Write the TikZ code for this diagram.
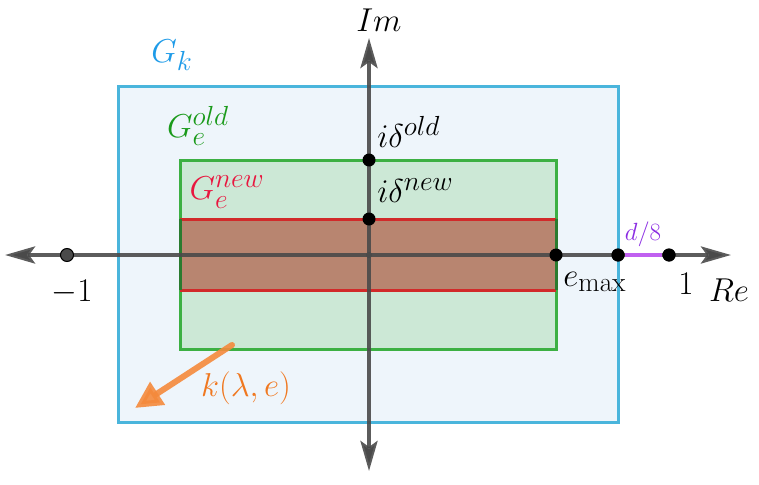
\documentclass[tikz,border=0pt]{standalone}
\usetikzlibrary{arrows.meta}
\definecolor{kblue}{HTML}{4AB5DC}
\definecolor{kbluefill}{HTML}{EEF5FB}
\definecolor{kgreen}{HTML}{3CB043}
\definecolor{kgreenfill}{HTML}{CCE8D6}
\definecolor{kred}{HTML}{D12A2A}
\definecolor{kbrown}{HTML}{B88570}
\definecolor{kaxis}{HTML}{4A4A4A}
\definecolor{klabelblue}{HTML}{1E9BE8}
\definecolor{klabelgreen}{HTML}{1A9A1A}
\definecolor{klabelred}{HTML}{E8173F}
\definecolor{korange}{HTML}{F58A3C}
\definecolor{korangetext}{HTML}{F07820}
\definecolor{kpurple}{HTML}{C060F0}
\definecolor{kpurpletext}{HTML}{8A2BE2}
\tikzset{
  axisline/.style={draw=kaxis, line width=4pt, -{Stealth[length=30pt,width=17pt,inset=6pt]}},
  dotblack/.style={circle, fill=black, inner sep=0pt, minimum size=13pt},
  dotgrey/.style={circle, fill=kaxis, draw=black, line width=1pt, inner sep=0pt, minimum size=13pt},
  lbl/.style={inner sep=0pt, font=\Huge, scale=1.33},
}
\begin{document}
\begin{tikzpicture}[x=1pt,y=-1pt]
\useasboundingbox (0,0) rectangle (759,484);
% regions
\draw[kblue, fill=kbluefill, line width=3pt] (118,87) rectangle (618,422);
\draw[kgreen, fill=kgreenfill, line width=3pt] (180,160) rectangle (556,349);
\fill[kbrown] (180,219) rectangle (556,290);
\draw[kred, line width=3pt] (180,219) -- (556,219);
\draw[kred, line width=3pt] (180,290) -- (556,290);
\draw[kgreen!70!black, line width=3pt] (180,219) -- (180,290);
\draw[kgreen!70!black, line width=3pt] (556,219) -- (556,290);
% axes
\coordinate (xl) at (5,255);
\coordinate (xr) at (731,255);
\coordinate (yt) at (369,38);
\coordinate (yb) at (369,471);
\coordinate (o) at (369,255);
\draw[axisline, draw opacity=0.9] (o) -- (xl);
\draw[axisline, draw opacity=0.9] (o) -- (xr);
\draw[axisline, draw opacity=0.9] (o) -- (yt);
\draw[axisline, draw opacity=0.9] (o) -- (yb);
% points
\node[dotgrey] (m1) at (67,255) {};
\node[dotblack] (emax) at (556,255) {};
\node[dotblack] (p1) at (618,255) {};
\node[dotblack] (p2) at (669,255) {};
\draw[kpurple, line width=4pt] (p1) -- (p2);
\node[dotblack] (p1b) at (618,255) {};
\node[dotblack] (p2b) at (669,255) {};
\node[circle, fill=kaxis, inner sep=0pt, minimum size=6pt] (odot) at (o) {};
\node[dotblack] (dold) at (369,160) {};
\node[dotblack] (dnew) at (369,219) {};
% labels
\node[lbl] (lIm) at (379,20) {$Im$};
\node[lbl] (lRe) at (729,290) {$Re$};
\node[lbl] (l1) at (686,284) {$1$};
\node[lbl] (lm1) at (72,292) {$-1$};
\node[lbl, anchor=west] (lemax) at (563,282) {$e_{\max}$};
\node[inner sep=0pt, font=\huge, scale=1.2, text=kpurpletext] (ld8) at (643,234) {$d/8$};
\node[lbl, anchor=west] (ldold) at (377,132) {$i\delta^{old}$};
\node[lbl, anchor=west] (ldnew) at (377,191) {$i\delta^{new}$};
\node[lbl, text=klabelblue] (lGk) at (172,55) {$G_k$};
\node[lbl, text=klabelgreen] (lGold) at (198,126) {$G_e^{old}$};
\node[lbl, text=klabelred] (lGnew) at (227,192) {$G_e^{new}$};
\node[lbl, text=korangetext] (lk) at (246,388) {$k(\lambda,e)$};
% orange arrow
\coordinate (ka) at (232,345);
\coordinate (kb) at (135,408);
\draw[korange, opacity=0.9, line width=6pt, line cap=round, -{Triangle[length=27pt,width=26pt]}] (ka) -- (kb);
\end{tikzpicture}
\end{document}
